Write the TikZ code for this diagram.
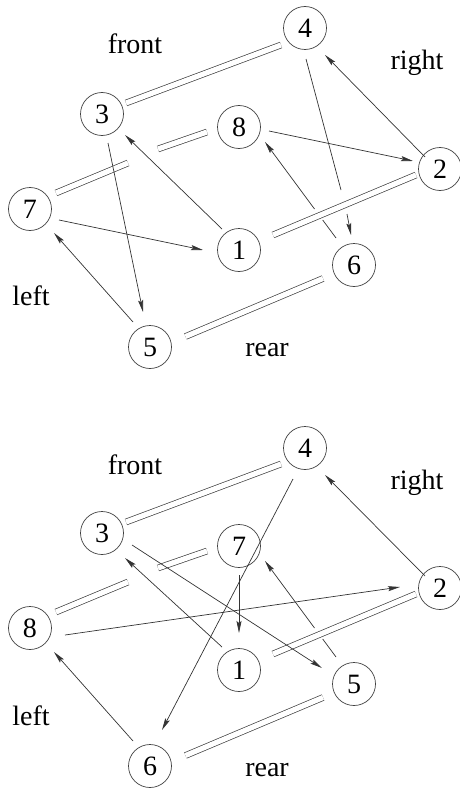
\documentclass[tikz,border=0pt]{standalone}
\usepackage{fontspec}
\setmainfont{Liberation Serif}
\usetikzlibrary{calc,arrows.meta}
\begin{document}
\begin{tikzpicture}[x=1pt,y=-1pt,
  vtx/.style={circle,draw=black!75,line width=0.7pt,minimum size=43pt,inner sep=0pt,font=\fontsize{28}{30}\selectfont},
  lbl/.style={font=\fontsize{28}{30}\selectfont},
  dbl/.style={draw=black!75,line width=0.7pt,double=white,double distance=5.2pt},
  ln/.style={draw=black!80,line width=0.7pt},
  arr/.style={ln,-{Stealth[length=12pt,width=5pt,inset=2pt]}}]
\useasboundingbox (0,0) rectangle (459,789);
% ---------- top graph ----------
\begin{scope}
\node[vtx] (a4) at (305,28) {4};
\node[vtx] (a3) at (102,114) {3};
\node[vtx] (a8) at (239,127) {8};
\node[vtx] (a2) at (440,169) {2};
\node[vtx] (a7) at (30,209) {7};
\node[vtx] (a1) at (239,250) {1};
\node[vtx] (a6) at (354,265) {6};
\node[vtx] (a5) at (150,347) {5};
\node[lbl] (afront) at (135,44) {front};
\node[lbl] (aright) at (417,63) {right};
\node[lbl] (aleft) at (31,296) {left};
\node[lbl] (arear) at (267,350) {rear};
% double edges
\draw[dbl] ($(a3)+(24,-11)$) -- ($(a4)+(-24,17)$);
\draw[dbl] ($(a7)+(26,-16)$) -- ($(a7)+(98,-46)$);
\draw[dbl] ($(a8)+(-81,22)$) -- ($(a8)+(-32,5)$);
\draw[dbl] ($(a1)+(34,-15)$) -- ($(a2)+(-24,6)$);
\draw[dbl] ($(a5)+(35.5,-10.5)$) -- ($(a6)+(-31,13.5)$);
% arrows
\draw[arr] ($(a2)+(-15,-12)$) -- ($(a4)+(20,27)$);
\draw[ln] ($(a4)+(1,31)$) -- ($(a6)+(-13,-75)$);
\draw[arr] ($(a6)+(-7,-51)$) -- ($(a6)+(-3,-30)$);
\draw[arr] ($(a8)+(30,4)$) -- ($(a2)+(-27,-8)$);
\draw[ln] ($(a6)+(-18,-27)$) -- ($(a6)+(-31.3,-45)$);
\draw[arr] ($(a6)+(-39.5,-56)$) -- ($(a8)+(26,15)$);
\draw[arr] ($(a1)+(-17,-21)$) -- ($(a3)+(23,21)$);
\draw[arr] ($(a3)+(6,29)$) -- ($(a5)+(-7,-35)$);
\draw[arr] ($(a5)+(-17,-25)$) -- ($(a7)+(24,24)$);
\draw[arr] ($(a7)+(29,11)$) -- ($(a1)+(-36,0)$);
\end{scope}
% ---------- bottom graph ----------
\begin{scope}[shift={(0,419)}]
\node[vtx] (b4) at (305,29) {4};
\node[vtx] (b3) at (102,114) {3};
\node[vtx] (b7) at (239,127) {7};
\node[vtx] (b2) at (440,169) {2};
\node[vtx] (b8) at (30,209) {8};
\node[vtx] (b1) at (239,251) {1};
\node[vtx] (b5) at (354,265) {5};
\node[vtx] (b6) at (150,347) {6};
\node[lbl] (bfront) at (135,46) {front};
\node[lbl] (bright) at (417,64) {right};
\node[lbl] (bleft) at (31,297) {left};
\node[lbl] (brear) at (267,351) {rear};
% double edges
\draw[dbl] ($(b3)+(24,-11)$) -- ($(b4)+(-24,16)$);
\draw[dbl] ($(b8)+(26,-16)$) -- ($(b8)+(98,-46)$);
\draw[dbl] ($(b7)+(-81,22)$) -- ($(b7)+(-32,5)$);
\draw[dbl] ($(b1)+(34,-16)$) -- ($(b2)+(-24,6)$);
\draw[dbl] ($(b6)+(35.5,-10.5)$) -- ($(b5)+(-31,13.5)$);
% arrows
\draw[arr] ($(b2)+(-15,-12)$) -- ($(b4)+(20,27)$);
\draw[arr] ($(b4)+(-12,31)$) -- ($(b6)+(12,-36)$);
\draw[arr] ($(b8)+(35,7)$) -- ($(b2)+(-40,-1)$);
\draw[ln] ($(b5)+(-18,-27)$) -- ($(b5)+(-31.3,-45)$);
\draw[arr] ($(b5)+(-39.5,-56)$) -- ($(b7)+(26,15)$);
\draw[arr] ($(b1)+(-17,-23)$) -- ($(b3)+(23,25)$);
\draw[arr] ($(b3)+(30,12)$) -- ($(b5)+(-32,-16)$);
\draw[arr] ($(b6)+(-17,-25)$) -- ($(b8)+(24,24)$);
\draw[arr] ($(b7)+(0,29)$) -- ($(b1)+(0,-37)$);
\end{scope}
\end{tikzpicture}
\end{document}
